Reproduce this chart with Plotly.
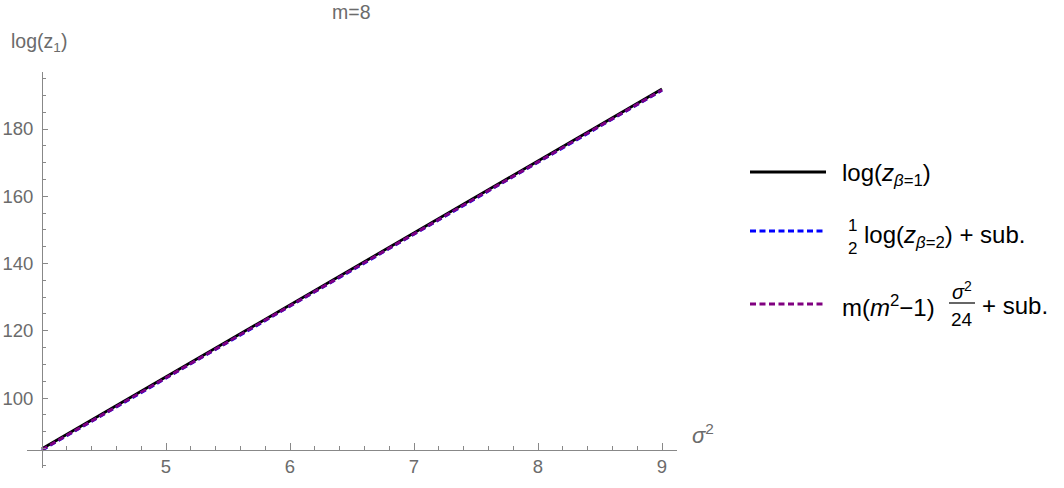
import plotly.graph_objects as go

# ---- data ----
sigma2 = [4.0, 5.0, 6.0, 7.0, 8.0, 9.0]
log_z_beta1 = [84.9, 106.3, 127.7, 149.1, 170.5, 191.9]
half_log_z_beta2 = [84.5, 105.9, 127.3, 148.7, 170.1, 191.5]
asymptotic = [84.6, 106.0, 127.4, 148.8, 170.2, 191.6]
x_ticks = [5, 6, 7, 8, 9]
y_ticks = [100, 120, 140, 160, 180]

W, H = 1064, 488
L, R, T, B = 27, 677, 72, 468
XR = [3.879, 9.121]
YR = [79.2, 196.95]
X0, Y0 = 4.0, 84.5  # axes origin

GRAY = "#6b6b6b"
FONT = "Liberation Sans"


def px(xp):
    return (xp - L) / (R - L)


def py(yp):
    return (B - yp) / (B - T)


fig = go.Figure()
fig.add_trace(go.Scatter(x=sigma2, y=log_z_beta1, mode="lines",
                         line=dict(color="black", width=2.8)))
fig.add_trace(go.Scatter(x=sigma2, y=half_log_z_beta2, mode="lines",
                         line=dict(color="#0000ff", width=2.8, dash="6px,3.5px")))
fig.add_trace(go.Scatter(x=sigma2, y=asymptotic, mode="lines",
                         line=dict(color="#800080", width=2.8, dash="6px,3.5px")))

xpos = (Y0 - YR[0]) / (YR[1] - YR[0])
ypos = (X0 - XR[0]) / (XR[1] - XR[0])

fig.update_layout(
    width=W, height=H,
    margin=dict(l=L, r=W - R, t=T, b=H - B, autoexpand=False),
    plot_bgcolor="white", paper_bgcolor="white",
    showlegend=False,
    font=dict(family=FONT, color=GRAY),
    xaxis=dict(range=XR, anchor="free", position=xpos, showgrid=False,
               zeroline=False, showline=True, linecolor="#888888", linewidth=1,
               tickvals=x_ticks, ticks="inside", ticklen=7, tickcolor="#888888",
               tickfont=dict(size=18.5, color=GRAY, family=FONT),
               minor=dict(tick0=4, dtick=0.2, ticks="inside", ticklen=4,
                          tickcolor="#888888", showgrid=False),
               automargin=False),
    yaxis=dict(range=YR, anchor="free", position=ypos, showgrid=False,
               zeroline=False, showline=True, linecolor="#888888", linewidth=1,
               tickvals=y_ticks, ticks="inside", ticklen=5, tickcolor="#888888",
               tickfont=dict(size=18.5, color=GRAY, family=FONT),
               ticklabelstandoff=5,
               minor=dict(tick0=0, dtick=5, ticks="inside", ticklen=3,
                          tickcolor="#888888", showgrid=False),
               automargin=False),
)

ann = []


def add_text(text, xp, yp, size, xanchor="left", color="black"):
    ann.append(dict(text=text, x=px(xp), y=py(yp), xref="paper", yref="paper",
                    xanchor=xanchor, yanchor="middle", showarrow=False,
                    font=dict(size=size, color=color, family=FONT)))


# title and axis labels
add_text("m=8", 351, 12, 19.5, "center", GRAY)
add_text("log(z<sub>1</sub>)", 9, 42, 19.5, "left", GRAY)
add_text("<i>σ</i><sup>2</sup>", 690, 434, 22, "left", GRAY)

# legend
shapes = []


def add_line(x0, x1, yp, color, dash, width=2.8):
    shapes.append(dict(type="line", xref="paper", yref="paper",
                       x0=px(x0), x1=px(x1), y0=py(yp), y1=py(yp),
                       line=dict(color=color, width=width, dash=dash)))


add_line(750, 826, 172, "black", "solid")
add_line(750, 826, 231, "#0000ff", "6px,3.5px")
add_line(750, 826, 304, "#800080", "6px,3.5px")

add_text("log(<i>z</i><sub><i>β</i>=1</sub>)", 840, 174, 24)
add_text("1", 852, 225, 17, "center")
add_text("2", 852, 248, 17, "center")
add_text("log(<i>z</i><sub><i>β</i>=2</sub>) + sub.", 862, 236, 24)
add_text("m(<i>m</i><sup>2</sup>−1)", 840, 306, 24)
add_text("<i>σ</i><sup>2</sup>", 962, 290, 20, "center")
shapes.append(dict(type="line", xref="paper", yref="paper",
                   x0=px(949), x1=px(975), y0=py(303), y1=py(303),
                   line=dict(color="black", width=1.2)))
add_text("24", 962, 319, 19, "center")
add_text("+ sub.", 980, 305, 24)

fig.update_layout(annotations=ann, shapes=shapes)
fig.write_html("out.html", config={"displayModeBar": False},
               post_script="document.body.style.margin='0';")
